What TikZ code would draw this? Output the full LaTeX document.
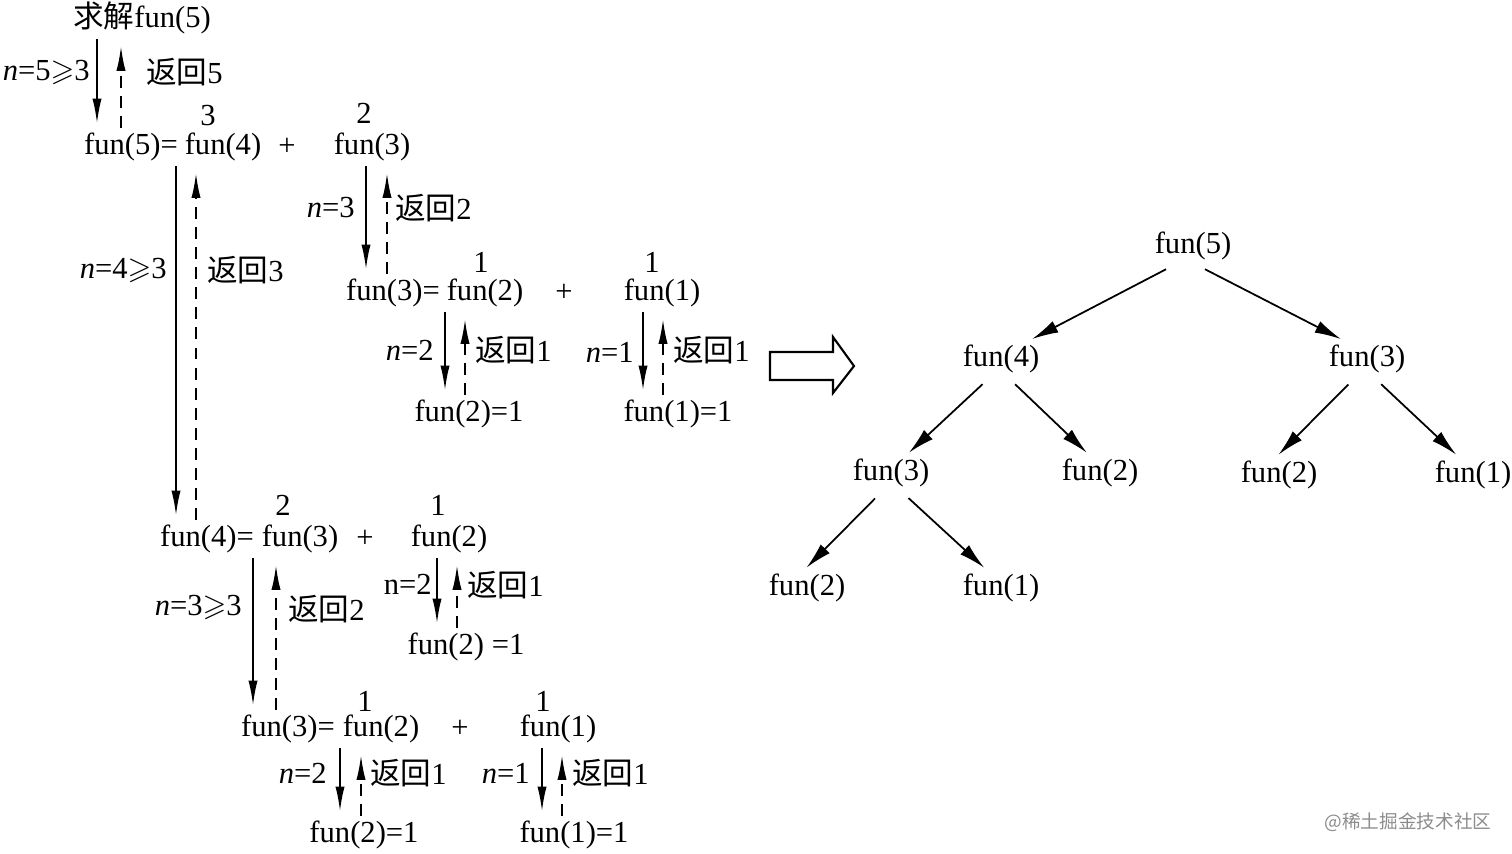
\documentclass[tikz,border=0pt]{standalone}
\usepackage{amssymb}
\usepackage{fontspec}
\setmainfont{Liberation Serif}
\newfontfamily\cjk{Noto Sans CJK SC}
\usetikzlibrary{arrows.meta}

\begin{document}
\begin{tikzpicture}[x=0.01cm,y=-0.01cm,
    every node/.style={inner sep=1pt,yshift=-0.85pt,font=\fontsize{8.7}{10}\selectfont},
    term/.style={text height=6.5pt,text depth=2pt},
    call/.style={-{Latex[length=7pt,width=2.6pt]},line width=0.5pt,shorten >=1.3pt},
    ret/.style={-{Latex[length=7pt,width=2.6pt]},line width=0.5pt,dash pattern=on 3.4pt off 2.3pt,shorten >=2pt},
    treeline/.style={-{Latex[length=7.5pt,width=3.6pt]},line width=0.5pt,shorten <=2.5pt,shorten >=0.5pt}]
  \useasboundingbox (0,0) rectangle (1512,853);

  % Nodes: recursion steps
  \node[term] (start) at (142,17) {{\cjk 求解}fun(5)};

  \node[term] (r1a) at (131,144) {fun(5)=};
  \node[term] (r1b) at (223,144) {fun(4)};
  \node (r1p) at (287,144) {+};
  \node[term] (r1c) at (372,144) {fun(3)};
  \node (v1b) at (208,113) {3};
  \node (v1c) at (364,110) {2};

  \node[term] (r2a) at (393,290) {fun(3)=};
  \node[term] (r2b) at (485,290) {fun(2)};
  \node (r2p) at (564,290) {+};
  \node[term] (r2c) at (662,290) {fun(1)};
  \node (v2b) at (481,259) {1};
  \node (v2c) at (652,259) {1};
  \node[term] (k2b) at (469,411) {fun(2)=1};
  \node[term] (k2c) at (678,411) {fun(1)=1};

  \node[term] (r3a) at (207,536) {fun(4)=};
  \node[term] (r3b) at (300,536) {fun(3)};
  \node (r3p) at (365,536) {+};
  \node[term] (r3c) at (449,536) {fun(2)};
  \node (v3b) at (283,502) {2};
  \node (v3c) at (438,502) {1};
  \node[term] (k3c) at (466,644) {fun(2) =1};

  \node[term] (r4a) at (288,726) {fun(3)=};
  \node[term] (r4b) at (381,726) {fun(2)};
  \node (r4p) at (460,726) {+};
  \node[term] (r4c) at (558,726) {fun(1)};
  \node (v4b) at (365,698) {1};
  \node (v4c) at (543,698) {1};
  \node[term] (k4b) at (364,832) {fun(2)=1};
  \node[term] (k4c) at (574,832) {fun(1)=1};

  % Labels beside the calls
  \node[anchor=east] (n1) at (94,69) {\textit{n}=5$\geqslant$3};
  \node[anchor=west] (b1) at (142,69) {{\cjk 返回}5};
  \node[anchor=east] (n2) at (171,267) {\textit{n}=4$\geqslant$3};
  \node[anchor=west] (b2) at (203,267) {{\cjk 返回}3};
  \node[anchor=east] (n3) at (359,205) {\textit{n}=3};
  \node[anchor=west] (b3) at (391,205) {{\cjk 返回}2};
  \node[anchor=east] (n4) at (438,347) {\textit{n}=2};
  \node[anchor=west] (b4) at (471,347) {{\cjk 返回}1};
  \node[anchor=east] (n5) at (638,349) {\textit{n}=1};
  \node[anchor=west] (b5) at (669,347) {{\cjk 返回}1};
  \node[anchor=east] (n6) at (246,604) {\textit{n}=3$\geqslant$3};
  \node[anchor=west] (b6) at (284,606) {{\cjk 返回}2};
  \node[anchor=east] (n7) at (436,581) {n=2};
  \node[anchor=west] (b7) at (463,582) {{\cjk 返回}1};
  \node[anchor=east] (n8) at (331,770) {\textit{n}=2};
  \node[anchor=west] (b8) at (366,770) {{\cjk 返回}1};
  \node[anchor=east] (n9) at (534,770) {\textit{n}=1};
  \node[anchor=west] (b9) at (568,770) {{\cjk 返回}1};

  % Calls and returns
  \draw[call] (97,0 |- start.south) -- (97,0 |- r1a.north);
  \draw[ret] (121,0 |- r1a.north) -- (121,0 |- start.south);
  \draw[call] (176,0 |- r1a.south) -- (176,0 |- r3a.north);
  \draw[ret] (196,0 |- r3a.north) -- (196,0 |- r1a.south);
  \draw[call] (366,0 |- r1c.south) -- (366,0 |- r2a.north);
  \draw[ret] (387,0 |- r2a.north) -- (387,0 |- r1c.south);
  \draw[call] (445,0 |- r2b.south) -- (445,0 |- k2b.north);
  \draw[ret] (465,0 |- k2b.north) -- (465,0 |- r2b.south);
  \draw[call] (643,0 |- r2c.south) -- (643,0 |- k2c.north);
  \draw[ret] (663,0 |- k2c.north) -- (663,0 |- r2c.south);
  \draw[call] (253,0 |- r3a.south) -- (253,0 |- r4a.north);
  \draw[ret] (276,0 |- r4a.north) -- (276,0 |- r3a.south);
  \draw[call] (437,0 |- r3c.south) -- (437,0 |- k3c.north);
  \draw[ret] (457,0 |- k3c.north) -- (457,0 |- r3c.south);
  \draw[call] (340,0 |- r4b.south) -- (340,0 |- k4b.north);
  \draw[ret] (361,0 |- k4b.north) -- (361,0 |- r4b.south);
  \draw[call] (542,0 |- r4c.south) -- (542,0 |- k4c.north);
  \draw[ret] (562,0 |- k4c.north) -- (562,0 |- r4c.south);

  % Hollow arrow
  \draw[line width=0.6pt] (770,352) -- (833,352) -- (833,337) -- (854,366)
    -- (833,393) -- (833,380) -- (770,380) -- cycle;

  % Nodes: recursion tree
  \node[term] (t5) at (1193,243) {fun(5)};
  \node[term] (t4) at (1001,356) {fun(4)};
  \node[term] (t3) at (1367,356) {fun(3)};
  \node[term] (t43) at (891,470) {fun(3)};
  \node[term] (t42) at (1100,470) {fun(2)};
  \node[term] (t32) at (1279,472) {fun(2)};
  \node[term] (t31) at (1473,472) {fun(1)};
  \node[term] (t432) at (807,585) {fun(2)};
  \node[term] (t431) at (1001,585) {fun(1)};

  % Edges
  \draw[treeline] (t5.225) -- (t4.33);
  \draw[treeline] (t5.282) -- (t3.142);
  \draw[treeline] (t4.238) -- (t43.49);
  \draw[treeline] (t4.292) -- (t42.122);
  \draw[treeline] (t3.237) -- (t32.95);
  \draw[treeline] (t3.292) -- (t31.129);
  \draw[treeline] (t43.243) -- (t432.95);
  \draw[treeline] (t43.300) -- (t431.129);

  \node[text=black!45,font=\cjk\fontsize{5.3}{6}\selectfont] (mark) at (1408,819) {@稀土掘金技术社区};
\end{tikzpicture}
\end{document}
